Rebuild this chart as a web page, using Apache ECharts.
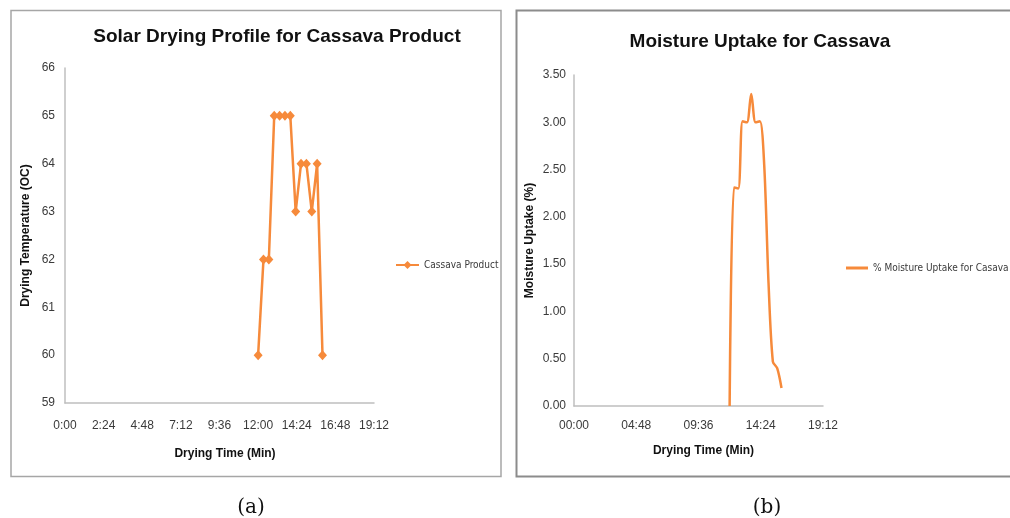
<!DOCTYPE html>
<html>
<head>
<meta charset="utf-8">
<script src="https://cdn.jsdelivr.net/npm/echarts@6/dist/echarts.min.js"></script>
<style>
html,body{margin:0;padding:0;background:#fff;}
#chart{width:1010px;height:518px;}
</style>
</head>
<body>
<div id="chart"></div>
<script>
// Drying time points (minutes from 0:00), every 20 minutes from 12:00 to 16:00
const timeMinutes = [720, 740, 760, 780, 800, 820, 840, 860, 880, 900, 920, 940, 960];
// Chart (a): drying temperature (OC)
const tempValues = [60, 62, 62, 65, 65, 65, 65, 63, 64, 64, 63, 64, 60];
// Chart (b): % moisture uptake
const moistureValues = [0.00, 2.31, 2.30, 3.01, 3.00, 3.30, 3.00, 3.01, 2.55, 1.30, 0.47, 0.40, 0.19];
// Tick setup (minutes)
const leftTickStep = 144;   // 2:24
const rightTickStep = 288;  // 4:48
const axisMaxMinutes = 1152; // 19:12
const tempTicks = [59, 60, 61, 62, 63, 64, 65, 66];
const moistureTicks = [0, 0.5, 1, 1.5, 2, 2.5, 3, 3.5];

const seriesA = 'Cassava Product';
const seriesB = '% Moisture Uptake for Casava';

function pad(n){ return (n < 10 ? '0' : '') + n; }
function fmtShort(v){ return Math.floor(v/60) + ':' + pad(Math.round(v%60)); }
function fmtLong(v){ return pad(Math.floor(v/60)) + ':' + pad(Math.round(v%60)); }

const orange = '#F68A3B';
const axisGray = '#bfbfbf';
const labelColor = '#3a3a3a';
const sans = '"Liberation Sans", Arial, sans-serif';
const narrow = '"Liberation Sans Narrow", "Arial Narrow", "DejaVu Sans Condensed", "Roboto Condensed", "Open Sans Condensed", sans-serif';

const chart = echarts.init(document.getElementById('chart'), null, {renderer: 'canvas'});

const axisLabelStyle = {color: labelColor, fontSize: 12, fontFamily: sans};
const axisNameStyle = {color: '#111', fontSize: 12, fontWeight: 'bold', fontFamily: sans};

chart.setOption({
  animation: false,
  backgroundColor: '#fff',
  title: [
    {text: 'Solar Drying Profile for Cassava Product', left: 272, top: 22, textAlign: 'center',
     textStyle: {fontSize: 19, fontWeight: 'bold', color: '#111', fontFamily: sans}},
    {text: 'Moisture Uptake for Cassava', left: 755, top: 27, textAlign: 'center',
     textStyle: {fontSize: 19, fontWeight: 'bold', color: '#111', fontFamily: sans}}
  ],
  legend: [
    {data: [seriesA], left: 395, top: 260, padding: 0, itemWidth: 23, itemHeight: 10,
     textStyle: {fontSize: 10, color: labelColor, fontFamily: narrow}},
    {data: [{name: seriesB, icon: 'rect'}], left: 846, top: 263, padding: 0, itemWidth: 22, itemHeight: 3,
     textStyle: {fontSize: 10, color: labelColor, fontFamily: narrow}}
  ],
  grid: [
    {left: 65, top: 68, width: 309, height: 335},
    {left: 574, top: 75, width: 249, height: 331}
  ],
  xAxis: [
    {gridIndex: 0, type: 'value', min: 0, max: axisMaxMinutes, interval: leftTickStep,
     name: 'Drying Time (Min)', nameLocation: 'middle', nameGap: 45,
     nameTextStyle: Object.assign({padding: [0, 0, 0, 11]}, axisNameStyle),
     axisLine: {show: true, lineStyle: {color: axisGray, width: 1.5}},
     axisTick: {show: false}, splitLine: {show: false},
     axisLabel: Object.assign({margin: 17, formatter: fmtShort}, axisLabelStyle)},
    {gridIndex: 1, type: 'value', min: 0, max: axisMaxMinutes, interval: rightTickStep,
     name: 'Drying Time (Min)', nameLocation: 'middle', nameGap: 39,
     nameTextStyle: Object.assign({padding: [0, 0, 0, 10]}, axisNameStyle),
     axisLine: {show: true, lineStyle: {color: axisGray, width: 1.5}},
     axisTick: {show: false}, splitLine: {show: false},
     axisLabel: Object.assign({margin: 14, formatter: fmtLong}, axisLabelStyle)}
  ],
  yAxis: [
    {gridIndex: 0, type: 'value', min: tempTicks[0], max: tempTicks[tempTicks.length-1], interval: 1,
     name: 'Drying Temperature (OC)', nameLocation: 'middle', nameGap: 33,
     nameTextStyle: axisNameStyle,
     axisLine: {show: true, lineStyle: {color: axisGray, width: 1.5}},
     axisTick: {show: false}, splitLine: {show: false},
     axisLabel: Object.assign({margin: 10}, axisLabelStyle)},
    {gridIndex: 1, type: 'value', min: moistureTicks[0], max: moistureTicks[moistureTicks.length-1], interval: 0.5,
     name: 'Moisture Uptake (%)', nameLocation: 'middle', nameGap: 38,
     nameTextStyle: axisNameStyle,
     axisLine: {show: true, lineStyle: {color: axisGray, width: 1.5}},
     axisTick: {show: false}, splitLine: {show: false},
     axisLabel: Object.assign({margin: 8, formatter: v => v.toFixed(2)}, axisLabelStyle)}
  ],
  series: [
    {name: seriesA, type: 'line', xAxisIndex: 0, yAxisIndex: 0,
     data: timeMinutes.map((t, i) => [t, tempValues[i]]),
     symbol: 'diamond', symbolSize: [9, 10], showSymbol: true,
     itemStyle: {color: orange}, lineStyle: {color: orange, width: 2.5}},
    {name: seriesB, type: 'line', xAxisIndex: 1, yAxisIndex: 1,
     data: timeMinutes.map((t, i) => [t, moistureValues[i]]),
     symbol: 'none', smooth: 0.3,
     itemStyle: {color: orange}, lineStyle: {color: orange, width: 2.5}}
  ],
  graphic: [
    {type: 'rect', shape: {x: 11, y: 10.5, width: 490, height: 466},
     style: {fill: 'none', stroke: '#a6a6a6', lineWidth: 1.5}, silent: true},
    {type: 'rect', shape: {x: 516.5, y: 10.5, width: 520, height: 466},
     style: {fill: 'none', stroke: '#8c8c8c', lineWidth: 2}, silent: true},
    {type: 'text', x: 251, y: 508,
     style: {text: '(a)', fill: '#111', font: '20px "DejaVu Serif", "Liberation Serif", serif', textAlign: 'center', textVerticalAlign: 'middle'}},
    {type: 'text', x: 767, y: 508,
     style: {text: '(b)', fill: '#111', font: '20px "DejaVu Serif", "Liberation Serif", serif', textAlign: 'center', textVerticalAlign: 'middle'}}
  ]
});
</script>
</body>
</html>
